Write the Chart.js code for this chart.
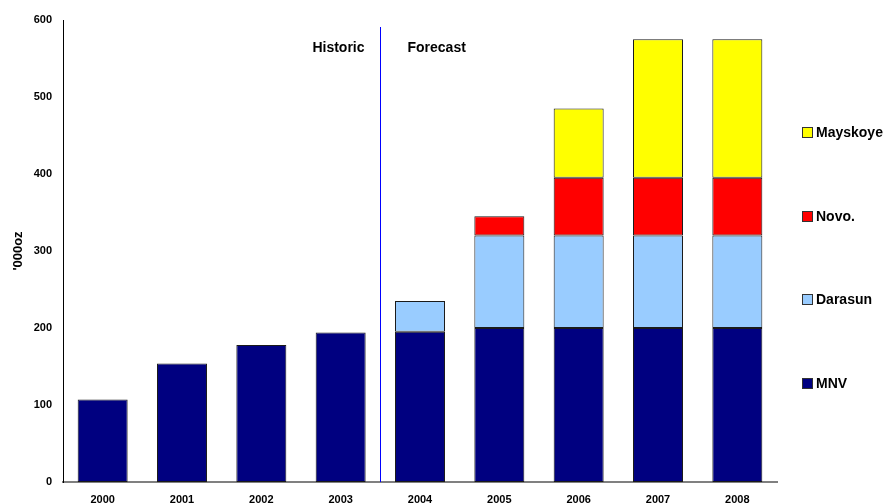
<!DOCTYPE html>
<html>
<head>
<meta charset="utf-8">
<script src="https://cdn.jsdelivr.net/npm/chart.js@4.4.1/dist/chart.umd.min.js"></script>
<style>
  html, body { margin: 0; padding: 0; background: #ffffff; }
  #wrap { width: 885px; height: 504px; position: relative; }
</style>
</head>
<body>
<div id="wrap"><canvas id="chart" width="885" height="504"></canvas></div>
<script>
// Gold production by mine, thousand ounces
const years = ['2000', '2001', '2002', '2003', '2004', '2005', '2006', '2007', '2008'];
const mnv = [107, 154, 178, 194, 195, 200, 200, 200, 200];
const darasun = [null, null, null, null, 40, 120, 120, 120, 120];
const novo = [null, null, null, null, null, 25, 75, 75, 75];
const mayskoye = [null, null, null, null, null, null, 90, 180, 180];
const yTicks = [0, 100, 200, 300, 400, 500, 600];
const firstForecastYear = '2004';

const FONT = 'Liberation Sans, Arial, Helvetica, sans-serif';

// Vertical divider between historic and forecast years, with its two captions
const dividerPlugin = {
  id: 'divider',
  afterDatasetsDraw(chart) {
    const { ctx, chartArea, scales } = chart;
    const i = years.indexOf(firstForecastYear);
    const x = Math.round((scales.x.getPixelForValue(i - 1) + scales.x.getPixelForValue(i)) / 2) + 0.5;
    ctx.save();
    ctx.strokeStyle = '#0000ff';
    ctx.lineWidth = 1;
    ctx.beginPath();
    ctx.moveTo(x, chartArea.top + 7);
    ctx.lineTo(x, chartArea.bottom);
    ctx.stroke();
    ctx.fillStyle = '#000000';
    ctx.font = 'bold 14px ' + FONT;
    ctx.textBaseline = 'middle';
    ctx.textAlign = 'right';
    ctx.fillText('Historic', x - 16, chartArea.top + 28);
    ctx.textAlign = 'left';
    ctx.fillText('Forecast', x + 27, chartArea.top + 28);
    ctx.restore();
  }
};

// Legend at the right, top item = top of the stack
const sideLegendPlugin = {
  id: 'sideLegend',
  afterDraw(chart) {
    const { ctx, chartArea } = chart;
    const sets = chart.data.datasets.slice().reverse();
    const boxX = chartArea.right + 25;
    const firstY = chartArea.top + 112;
    const step = 83.5;
    ctx.save();
    ctx.font = 'bold 14px ' + FONT;
    ctx.textBaseline = 'middle';
    ctx.textAlign = 'left';
    sets.forEach((ds, k) => {
      const y = Math.round(firstY + k * step);
      ctx.fillStyle = ds.backgroundColor;
      ctx.fillRect(boxX, y - 5, 11, 11);
      ctx.strokeStyle = '#333333';
      ctx.lineWidth = 1;
      ctx.strokeRect(boxX + 0.5, y - 4.5, 10, 10);
      ctx.fillStyle = '#000000';
      ctx.fillText(ds.label, boxX + 14, y + 1);
    });
    ctx.restore();
  }
};

const common = { borderColor: '#1a1a1a', borderWidth: 1, borderSkipped: false,
                 categoryPercentage: 1.0, barPercentage: 0.63 };

new Chart(document.getElementById('chart'), {
  type: 'bar',
  data: {
    labels: years,
    datasets: [
      { label: 'MNV', data: mnv, backgroundColor: '#000080', ...common },
      { label: 'Darasun', data: darasun, backgroundColor: '#99ccff', ...common },
      { label: 'Novo.', data: novo, backgroundColor: '#ff0000', ...common },
      { label: 'Mayskoye', data: mayskoye, backgroundColor: '#ffff00', ...common }
    ]
  },
  options: {
    responsive: false,
    animation: false,
    devicePixelRatio: 1,
    layout: { padding: { top: 20, right: 108, bottom: 0, left: 0 } },
    plugins: {
      legend: { display: false },
      tooltip: { enabled: false },
      title: { display: false }
    },
    scales: {
      x: {
        stacked: true,
        offset: true,
        grid: { display: false, drawTicks: false },
        border: { display: true, color: '#808080', width: 2 },
        ticks: { color: '#000000', font: { family: FONT, size: 11, weight: 'bold' }, padding: 11, maxRotation: 0 },
        afterFit(scale) { scale.height = 22; }
      },
      y: {
        stacked: true,
        min: 0,
        max: 600,
        afterBuildTicks(scale) { scale.ticks = yTicks.map(v => ({ value: v })); },
        grid: { display: false, drawOnChartArea: false, drawTicks: true, tickLength: 5, color: '#000000' },
        border: { display: true, color: '#000000', width: 1 },
        ticks: { color: '#000000', font: { family: FONT, size: 11, weight: 'bold' }, padding: 6 },
        title: { display: true, text: "'000oz", color: '#000000', font: { family: FONT, size: 13, weight: 'bold' }, padding: { top: 11, bottom: 8 } },
        afterFit(scale) { scale.width = 63; }
      }
    }
  },
  plugins: [dividerPlugin, sideLegendPlugin]
});
</script>
</body>
</html>
